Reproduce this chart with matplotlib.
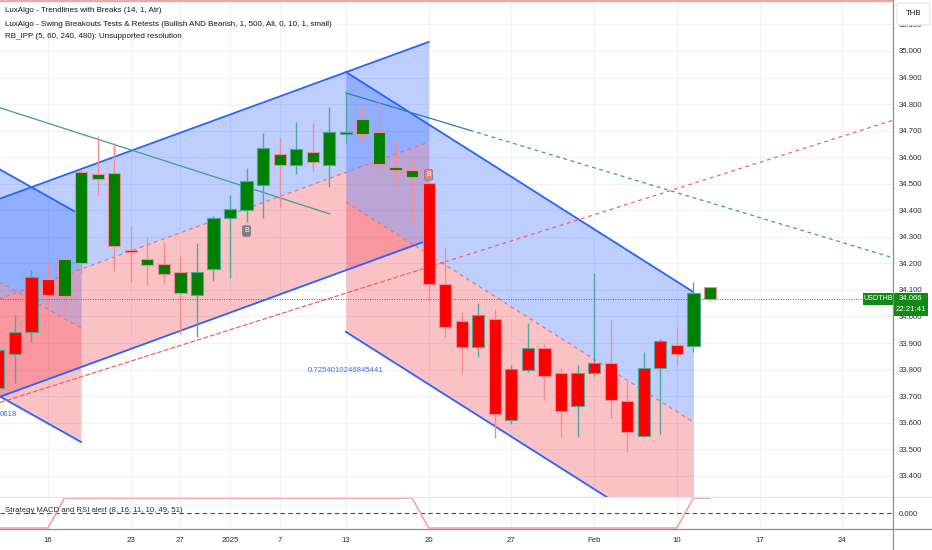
import matplotlib
matplotlib.use('Agg')
import matplotlib.pyplot as plt
from matplotlib.patches import Rectangle, FancyBboxPatch
from matplotlib.lines import Line2D

plt.rcParams['font.family'] = ['Liberation Sans', 'DejaVu Sans']

W, H = 932, 550

# daily USDTHB bars, index 0 = 11 Dec 2024 (weekends, 25 Dec and 1 Jan skipped)
opens = [33.731, 33.859, 33.942, 34.141, 34.217, 34.545, 34.537, 34.541, 34.247, 34.217,
         34.198, 34.168, 34.081, 34.179, 34.371, 34.401, 34.496, 34.612, 34.571, 34.620,
         34.571, 34.688, 34.744, 34.695, 34.563, 34.552, 34.503, 34.123, 33.983, 33.885,
         33.991, 33.610, 33.799, 33.881, 33.787, 33.663, 33.787, 33.825, 33.682, 33.550,
         33.806, 33.893, 33.889, 34.111]
highs = [33.900, 34.006, 34.175, 34.205, 34.232, 34.550, 34.680, 34.654, 34.341, 34.300,
         34.281, 34.232, 34.277, 34.379, 34.458, 34.560, 34.691, 34.676, 34.733, 34.729,
         34.789, 34.842, 34.797, 34.816, 34.661, 34.590, 34.507, 34.262, 34.017, 34.051,
         34.028, 33.817, 33.976, 33.900, 33.806, 33.817, 34.164, 33.987, 33.757, 33.867,
         33.915, 33.961, 34.130, 34.111]
lows = [33.701, 33.750, 33.904, 34.017, 34.006, 34.164, 34.454, 34.172, 34.130, 34.119,
        34.126, 33.934, 33.923, 34.134, 34.145, 34.356, 34.371, 34.413, 34.537, 34.548,
        34.488, 34.654, 34.654, 34.533, 34.488, 34.345, 34.059, 33.923, 33.787, 33.848,
        33.543, 33.595, 33.791, 33.686, 33.546, 33.546, 33.776, 33.618, 33.490, 33.546,
        33.558, 33.814, 33.866, 34.059]
closes = [33.874, 33.942, 34.149, 34.081, 34.077, 34.202, 34.518, 34.266, 34.243, 34.194,
          34.160, 34.089, 34.168, 34.371, 34.405, 34.511, 34.635, 34.571, 34.631, 34.582,
          34.695, 34.695, 34.688, 34.575, 34.552, 34.526, 34.123, 33.961, 33.885, 34.006,
          33.633, 33.802, 33.881, 33.776, 33.644, 33.787, 33.825, 33.686, 33.565, 33.806,
          33.908, 33.859, 34.089, 34.066]
# strategy state (also colours the candle bodies)
signal = [-1, -1, -1, -1, 1, 1, 1, 1, 1, 1, 1, 1, 1, 1, 1, 1, 1, 1, 1, 1, 1, 1, 1, 1, 1, 1,
          -1, -1, -1, -1, -1, -1, -1, -1, -1, -1, -1, -1, -1, -1, -1, -1, 1, 1]

tick_pos = [3, 8, 11, 14, 17, 21, 26, 31, 36, 41, 46, 51]
tick_lab = ['16', '23', '27', '2025', '7', '13', '20', '27', 'Feb', '10', '17', '24']
price_ticks = [33.4, 33.5, 33.6, 33.7, 33.8, 33.9, 34.0, 34.1, 34.2, 34.3, 34.4, 34.5,
               34.6, 34.7, 34.8, 34.9, 35.0, 35.1]

# swing channels: (start bar, end bar) and prices at both ends
ch_bars = [(-3, 5), (-3, 26), (21, 42)]
ch_upper = [(34.662, 34.382), (34.373, 35.034), (34.921, 34.092)]
ch_mid = [(34.237, 33.957), (33.996, 34.657), (34.431, 33.602)]
ch_lower = [(33.807, 33.527), (33.627, 34.288), (33.942, 33.113)]
ch_labels = ['0618', '', '0.7254010246845441']

# trendlines: (bar, price) end points, bar where line turns dashed
tl_teal1 = [(0.1, 34.786), (20.04, 34.386)]
tl_teal2 = [(21, 34.842), (54.06, 34.221)]
tl_teal2_break = 28.5
tl_red = [(0.1, 33.676), (54.06, 34.739)]
tl_red_break = 27
top_level = 35.188
last_price = 34.066

BLUE = '#2962ff'
PINK = '#f23645'
TEAL = '#4fa89c'
EDGE_DN = '#f28b93'
GRID = '#eef1f6'
FS = 5.6

fig = plt.figure(figsize=(W / 100, H / 100), dpi=100)
ax = fig.add_axes([0, 1 - 497 / H, 893 / W, 497 / H])
ax2 = fig.add_axes([0, 1 - 529 / H, 893 / W, 32 / H])

xlim = (0.0997, 54.06)
ax.set_xlim(*xlim)
ax.set_ylim(33.320, 35.192)

# grid
for t in tick_pos:
    ax.axvline(t, color=GRID, lw=0.8, zorder=0)
    ax2.axvline(t, color=GRID, lw=0.8, zorder=0)
for p in price_ticks:
    ax.axhline(p, color=GRID, lw=0.8, zorder=0)

# channels
for (a, b), up, md, lo in zip(ch_bars, ch_upper, ch_mid, ch_lower):
    ax.fill_between([a, b], up, md, color=BLUE, alpha=0.3, lw=0, zorder=1)
    ax.fill_between([a, b], md, lo, color=PINK, alpha=0.3, lw=0, zorder=1)
    ax.plot([a, b], up, color=BLUE, lw=1.3, zorder=2)
    ax.plot([a, b], lo, color=BLUE, lw=1.3, zorder=2)
    ax.plot([a, b], md, color='#ee6f7c', lw=0.9, ls=(0, (3, 3)), zorder=2)
for (a, b), lo, lab in zip(ch_bars, ch_lower, ch_labels):
    if lab and a >= 0:
        ax.text(a, lo[0] - 0.144, lab, color='#3d6ef0', fontsize=FS, ha='center', va='center')
    elif lab:
        ax.text(xlim[0], 33.629, lab, color='#3d6ef0', fontsize=FS, ha='left', va='center')

# trendlines
def line_at(pts, x):
    (x0, y0), (x1, y1) = pts
    return y0 + (y1 - y0) * (x - x0) / (x1 - x0)

ax.plot([p[0] for p in tl_teal1], [p[1] for p in tl_teal1], color='#3f9c90', lw=0.9, zorder=2)
xb = tl_teal2_break
ax.plot([tl_teal2[0][0], xb], [tl_teal2[0][1], line_at(tl_teal2, xb)], color='#2f7f9a', lw=0.9, zorder=2)
ax.plot([xb, tl_teal2[1][0]], [line_at(tl_teal2, xb), tl_teal2[1][1]], color='#3f9c90', lw=0.9,
        ls=(0, (3, 3)), zorder=2)
xb = tl_red_break
ax.plot([tl_red[0][0], xb], [tl_red[0][1], line_at(tl_red, xb)], color='#f0606e', lw=0.9,
        ls=(0, (4, 1.5)), zorder=2)
ax.plot([xb, tl_red[1][0]], [line_at(tl_red, xb), tl_red[1][1]], color='#f0606e', lw=0.9,
        ls=(0, (3, 3)), zorder=2)

ax.axhline(top_level, color='#f7a1a8', lw=1.6, zorder=2)

# candles
for i, (o, h, l, c, s) in enumerate(zip(opens, highs, lows, closes, signal)):
    edge = TEAL if c >= o else EDGE_DN
    face = '#008000' if s > 0 else '#ff0000'
    ax.vlines(i, l, h, color=edge, lw=1, zorder=3)
    bot = min(o, c)
    hgt = max(abs(c - o), 0.006)
    ax.add_patch(Rectangle((i - 0.37, bot), 0.74, hgt, facecolor=face, edgecolor=edge,
                           lw=0.8, zorder=4))

# breakout markers
for bx, by, col in [(15, 34.322, '#7e7f86'), (26, 34.533, '#d98888')]:
    ax.text(bx, by, 'B', color='white', fontsize=5, ha='center', va='center', zorder=5,
            bbox=dict(boxstyle='round,pad=0.25', fc=col, ec='#6b6b6b', lw=0.4))

ax.plot([xlim[0], 52.2], [last_price, last_price], color='#5a6270', lw=0.7, ls=(0, (1, 1.5)), zorder=3)

ax.yaxis.tick_right()
ax.set_yticks(price_ticks)
ax.set_yticklabels([f'{p:.3f}' for p in price_ticks])
ax.tick_params(axis='y', length=0, pad=4, labelsize=FS, labelcolor='#2a2e39')
ax.set_xticks([])
for sp in ax.spines.values():
    sp.set_visible(False)

# lower pane
ax2.set_xlim(*xlim)
ax2.set_ylim(-1.07, 1.07)
ax2.axhline(0, color='#8c2a52', lw=0.8, ls=(0, (4, 3)), zorder=1)
ax2.plot(range(len(signal)), signal, color='#f7a1a8', lw=1.2, zorder=2)
ax2.text(0.4, 0.2, 'Strategy MACD and RSI alert (8, 16, 11, 10, 49, 51)', fontsize=FS,
         color='#2a2e39', ha='left', va='center', zorder=3)
ax2.yaxis.tick_right()
ax2.set_yticks([0])
ax2.set_yticklabels(['0.000'])
ax2.tick_params(axis='y', length=0, pad=4, labelsize=FS, labelcolor='#2a2e39')
ax2.set_xticks(tick_pos)
ax2.set_xticklabels(tick_lab)
ax2.tick_params(axis='x', length=0, pad=6, labelsize=FS, labelcolor='#2a2e39')
for sp in ax2.spines.values():
    sp.set_visible(False)

# frame lines
fig.add_artist(Line2D([0, 1], [1 - 497 / H] * 2, transform=fig.transFigure, color='#e0e3eb', lw=0.8))
fig.add_artist(Line2D([0, 1], [1 - 529 / H] * 2, transform=fig.transFigure, color='#8a8e99', lw=0.9))
fig.add_artist(Line2D([893 / W] * 2, [0, 1], transform=fig.transFigure, color='#8a8e99', lw=0.9))

# legend lines
legend = ['LuxAlgo - Trendlines with Breaks (14, 1, Atr)',
          'LuxAlgo - Swing Breakouts Tests & Retests (Bullish AND Bearish, 1, 500, All, 0, 10, 1, small)',
          'RB_IPP (5, 60, 240, 480): Unsupported resolution']
for k, s in enumerate(legend):
    fig.text(5 / W, 1 - (11 + 13 * k) / H, s, fontsize=5.8, color='#131722', ha='left', va='center')

# THB box
fig.add_artist(FancyBboxPatch((897 / W, 1 - 25 / H), 33 / W, 22 / H,
                              boxstyle='round,pad=0,rounding_size=0.004',
                              transform=fig.transFigure, fc='white', ec='#e0e3eb', lw=0.8))
fig.text(913.5 / W, 1 - 13.5 / H, 'THB', fontsize=FS, color='#131722', ha='center', va='center')

# last price tag
ypx = H - ax.transData.transform((0, last_price))[1]
GREEN_TAG = '#0f8a12'
fig.add_artist(Rectangle((863 / W, 1 - (ypx + 6) / H), 30 / W, 12 / H, transform=fig.transFigure,
                         fc=GREEN_TAG, ec='none'))
fig.add_artist(Rectangle((893 / W, 1 - (ypx + 17) / H), 35 / W, 23 / H, transform=fig.transFigure,
                         fc=GREEN_TAG, ec='none'))
fig.text(878 / W, 1 - ypx / H, 'USDTHB', fontsize=5.2, color='white', ha='center', va='center')
fig.text(910.5 / W, 1 - ypx / H, f'{last_price:.3f}', fontsize=FS, color='white', ha='center', va='center')
fig.text(910.5 / W, 1 - (ypx + 11) / H, '22:21:41', fontsize=FS, color='white', ha='center', va='center')

fig.savefig('out.png', dpi=100)
